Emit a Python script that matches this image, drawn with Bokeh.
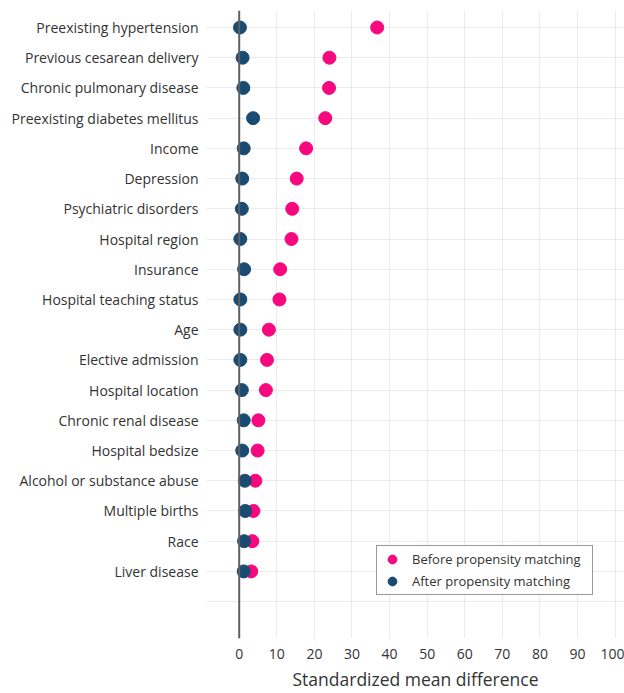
from bokeh.plotting import figure
from bokeh.models import Range1d, FixedTicker, Span
from bokeh.embed import file_html
from bokeh.resources import INLINE

categories = [
    "Preexisting hypertension", "Previous cesarean delivery", "Chronic pulmonary disease",
    "Preexisting diabetes mellitus", "Income", "Depression", "Psychiatric disorders",
    "Hospital region", "Insurance", "Hospital teaching status", "Age", "Elective admission",
    "Hospital location", "Chronic renal disease", "Hospital bedsize",
    "Alcohol or substance abuse", "Multiple births", "Race", "Liver disease",
]
before = [36.7, 24.0, 23.9, 22.9, 17.8, 15.3, 14.1, 13.9, 10.9, 10.7,
          7.9, 7.4, 7.1, 5.1, 4.9, 4.3, 3.8, 3.5, 3.2]
after = [0.2, 0.9, 1.1, 3.7, 1.2, 0.8, 0.7, 0.3, 1.3, 0.3,
         0.3, 0.3, 0.7, 1.2, 0.8, 1.5, 1.6, 1.3, 1.2]
x_ticks = [0, 10, 20, 30, 40, 50, 60, 70, 80, 90, 100]

rows = list(range(len(categories)))
y_ticks = list(range(len(categories) + 1))
overrides = {i: c for i, c in enumerate(categories)}
overrides[len(categories)] = ""

PINK = "#f7087f"
BLUE = "#1a4b73"
TEXT = "#333333"
FONT = "Open Sans"

p = figure(width=624, height=693, output_backend="svg", toolbar_location=None,
           x_range=Range1d(-8.7, 102.5), y_range=Range1d(20.22, -0.5625),
           min_border_left=206, min_border_right=0, min_border_top=10,
           min_border_bottom=55)
p.outline_line_color = None
p.background_fill_color = "white"

# axes
p.xaxis.ticker = FixedTicker(ticks=x_ticks)
p.xaxis.axis_label = "Standardized mean difference"
p.xaxis.axis_label_text_font = FONT
p.xaxis.axis_label_text_font_size = "17.5px"
p.xaxis.axis_label_text_font_style = "normal"
p.xaxis.axis_label_text_color = TEXT
p.xaxis.axis_label_standoff = 5
p.xaxis.major_label_standoff = 4
p.xaxis.major_label_text_font = FONT
p.xaxis.major_label_text_font_size = "14px"
p.xaxis.major_label_text_color = TEXT
p.xaxis.axis_line_color = None
p.xaxis.major_tick_line_color = None
p.xaxis.minor_tick_line_color = None

p.yaxis.ticker = FixedTicker(ticks=y_ticks)
p.yaxis.major_label_overrides = overrides
p.yaxis.major_label_standoff = 2
p.yaxis.major_label_text_font = FONT
p.yaxis.major_label_text_font_size = "14px"
p.yaxis.major_label_text_color = TEXT
p.yaxis.axis_line_color = None
p.yaxis.major_tick_line_color = None
p.yaxis.minor_tick_line_color = None

p.xgrid.grid_line_color = "#ebebeb"
p.ygrid.grid_line_color = "#ebebeb"
p.xgrid.grid_line_width = 1
p.ygrid.grid_line_width = 1

p.add_layout(Span(location=0, dimension="height", line_color="#606060", line_width=2))

p.scatter(before, rows, size=13, fill_color=PINK, line_color=PINK,
          legend_label="Before propensity matching")
p.scatter(after, rows, size=13, fill_color=BLUE, line_color=BLUE,
          legend_label="After propensity matching")

lg = p.legend[0]
lg.location = (170, 43)
lg.label_text_font = FONT
lg.label_text_font_size = "13px"
lg.label_text_color = TEXT
lg.glyph_width = 26
lg.glyph_height = 22
lg.label_height = 22
lg.label_width = 178
lg.label_standoff = 7
lg.padding = 2
lg.spacing = 0
lg.margin = 0
lg.border_line_color = "#333333"
lg.border_line_width = 1
lg.background_fill_color = "white"
lg.background_fill_alpha = 1.0

open("out.html", "w").write(file_html(p, INLINE))
